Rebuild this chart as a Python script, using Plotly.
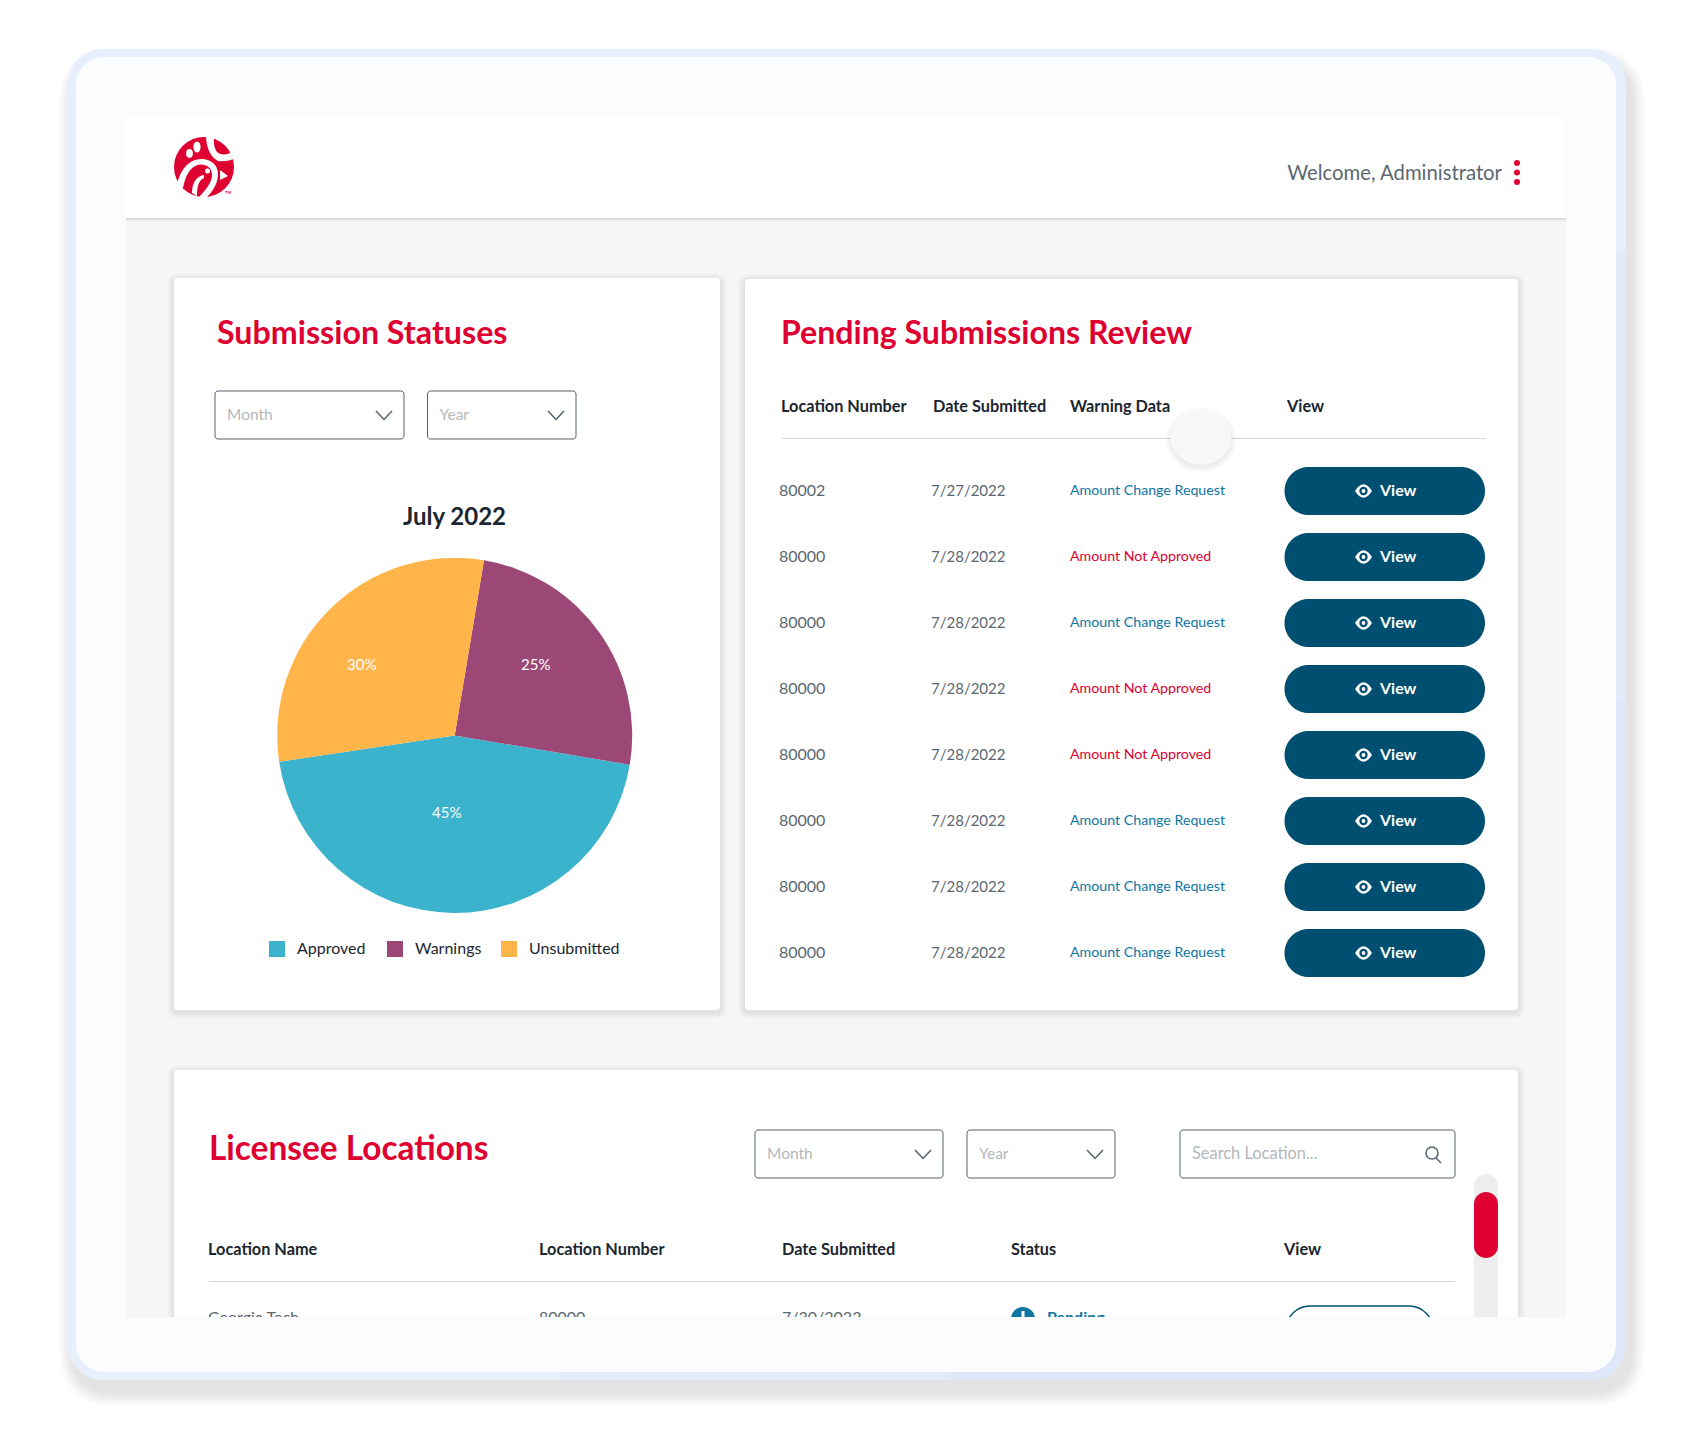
import plotly.graph_objects as go

W, H = 1692, 1430
FONT = "Lato"

# pie data
status_labels = ["Approved", "Warnings", "Unsubmitted"]
status_values = [45, 25, 30]
status_colors = ["#3cb3cd", "#9b4876", "#ffb54a"]

# pending table
pending_headers = ["Location Number", "Date Submitted", "Warning Data", "View"]
pending_numbers = ["80002", "80000", "80000", "80000", "80000", "80000", "80000", "80000"]
pending_dates = ["7/27/2022", "7/28/2022", "7/28/2022", "7/28/2022", "7/28/2022", "7/28/2022", "7/28/2022", "7/28/2022"]
pending_warnings = ["Amount Change Request", "Amount Not Approved", "Amount Change Request", "Amount Not Approved",
                    "Amount Not Approved", "Amount Change Request", "Amount Change Request", "Amount Change Request"]

# licensee table
licensee_headers = ["Location Name", "Location Number", "Date Submitted", "Status", "View"]
licensee_row = ["Georgia Tech", "80000", "7/30/2022"]

RED = "#dd0031"
NAVY = "#004f71"
TEAL = "#0e76a3"
GREY = "#5b6770"
DARK = "#1b2630"
PLACEHOLDER = "#b3b7bb"
BORDER = "#55606b"
RULE = "#cfd6de"
K = 0.552

shapes = []
annotations = []
traces = []


def rrect(x0, y0, x1, y1, r):
    c = r*(1-K)
    return (f"M {x0+r} {y0} L {x1-r} {y0} C {x1-c} {y0} {x1} {y0+c} {x1} {y0+r} "
            f"L {x1} {y1-r} C {x1} {y1-c} {x1-c} {y1} {x1-r} {y1} "
            f"L {x0+r} {y1} C {x0+c} {y1} {x0} {y1-c} {x0} {y1-r} "
            f"L {x0} {y0+r} C {x0} {y0+c} {x0+c} {y0} {x0+r} {y0} Z")


def add_path(path, fill=None, line=None, width=0, layer="below"):
    shapes.append(dict(type="path", path=path, xref="x", yref="y", layer=layer,
                       fillcolor=fill if fill else "rgba(0,0,0,0)",
                       line=dict(color=line if line else "rgba(0,0,0,0)", width=width)))


def add_rect(x0, y0, x1, y1, fill, r=0, line=None, width=0, layer="below"):
    add_path(rrect(x0, y0, x1, y1, r), fill, line, width, layer)


def add_circle(cx, cy, rx, ry=None, fill=None, line=None, width=0, layer="below"):
    ry = rx if ry is None else ry
    shapes.append(dict(type="circle", xref="x", yref="y", x0=cx-rx, x1=cx+rx, y0=cy-ry, y1=cy+ry, layer=layer,
                       fillcolor=fill if fill else "rgba(0,0,0,0)",
                       line=dict(color=line if line else "rgba(0,0,0,0)", width=width)))


def add_shadow(x0, y0, x1, y1, r, steps, alpha, dx=0, dy=0):
    for k in range(steps, 0, -1):
        add_rect(x0-k+dx, y0-k+dy, x1+k+dx, y1+k+dy, f"rgba(0,0,0,{alpha})", r+k)


def add_text(xs, ys, texts, size, color, bold=False, pos="middle right"):
    traces.append(go.Scatter(x=xs, y=ys, text=texts, mode="text", textposition=pos, hoverinfo="skip",
                             showlegend=False, cliponaxis=False,
                             textfont=dict(family=FONT, size=size, color=color,
                                           weight="bold" if bold else "normal")))


def add_dropdown(x0, y0, x1, y1, label):
    add_rect(x0, y0, x1, y1, "#ffffff", 3, BORDER, 1)
    cy = (y0+y1)/2
    add_text([x0+12], [cy+1], [label], 15.5, PLACEHOLDER)
    add_path(f"M {x1-28} {cy-4} L {x1-20} {cy+4.5} L {x1-12} {cy-4}", None, BORDER, 1.5)


# outer frame
add_shadow(68, 49, 1626, 1380, 35, 14, 0.009, 5, 12)
add_rect(68, 49, 1626, 1380, "#e7effc", 35)
add_path("M 560 1380 L 1591 1380 C 1610 1380 1626 1364 1626 1345 L 1626 250 L 1500 250 L 1500 1300 L 560 1300 Z", "#e2ebfa")
add_path("M 950 1380 L 1591 1380 C 1610 1380 1626 1364 1626 1345 L 1626 700 L 1500 700 L 1500 1300 L 950 1300 Z", "#dde7f7")
add_rect(76, 57, 1616, 1372, "#fbfcfe", 28)

# page area
add_rect(126, 218, 1566, 1330, "#f6f6f6")
add_rect(126, 117, 1566, 218, "#ffffff")
for k, a in [(1, 0.16), (2, 0.09), (3, 0.05), (4, 0.02)]:
    add_rect(126, 218+k-1, 1566, 218+k, f"rgba(40,50,70,{a})")

# logo
add_circle(204, 167, 30, fill=RED)
add_path("M 206 137 Q 207 155 218 161 Q 228 162 235 158 L 232 152 Q 223 157 217 152 Q 213 147 214 136 Z", "#ffffff")
add_circle(189.5, 153.5, 3.4, 4.4, fill="#ffffff")
add_circle(197, 147, 3.6, 5.6, fill="#ffffff")
add_path("M 220 170 L 228 176 L 220 180 Z", "#ffffff")
add_path("M 177 184 C 181 168 190 159 201 159 C 212 159 219 166 218 176 C 217 185 212 192 207 197 L 199 197 "
         "C 206 190 212 182 212 175 C 212 168 207 164.5 201 164.5 C 193 164.5 186 172 183 188 Z", "#ffffff")
add_path("M 192 193 C 192 182 197 176 204 175 L 204 178 C 199 180 197 186 197 196 Z", "#ffffff")
add_circle(207.5, 171, 2.5, fill="#ffffff")
add_text([225], [193], ["TM"], 4, RED, True)

add_text([1502], [174.5], ["Welcome, Administrator"], 20.3, GREY, pos="middle left")
for y in [163, 172.5, 182]:
    add_circle(1517, y, 3, fill=RED)

# cards
for box in [(174, 278, 720, 1010), (745, 279, 1518, 1010), (174, 1070, 1518, 1340)]:
    add_shadow(*box, 3, 7, 0.01, 0, 2)
    add_rect(*box, "#ffffff", 3)

# submission statuses card
add_text([217], [336], ["Submission Statuses"], 32.2, RED, True)
add_dropdown(215, 391, 404, 439, "Month")
add_dropdown(427.5, 391, 576, 439, "Year")
add_text([454.5], [519], ["July 2022"], 24, DARK, True, "middle center")

pie_cx, pie_cy, pie_r = 454.7, 735.4, 177.5
traces.append(go.Pie(labels=status_labels, values=status_values, sort=False, direction="counterclockwise",
                     rotation=99.5, textinfo="none", hoverinfo="skip", showlegend=False,
                     marker=dict(colors=status_colors, line=dict(width=0)),
                     domain=dict(x=[(pie_cx-pie_r)/W, (pie_cx+pie_r)/W],
                                 y=[1-(pie_cy+pie_r)/H, 1-(pie_cy-pie_r)/H])))

# percent labels sit on top of the pie
for v, px, py in zip(status_values, [446, 535, 361], [812, 664, 664]):
    annotations.append(dict(x=px, y=py, xref="x", yref="y", text=f"{v}%", showarrow=False,
                            font=dict(family=FONT, size=15, color="#ffffff")))

for name, color, sx, tx in zip(status_labels, status_colors, [269, 387, 501], [297, 415, 529]):
    add_rect(sx, 941, sx+16, 957, color)
    add_text([tx], [949.5], [name], 16, DARK)

# pending card
add_text([781], [336], ["Pending Submissions Review"], 32.1, RED, True)
for name, x in zip(pending_headers, [781, 933, 1070, 1287]):
    add_text([x], [408], [name], 16.3, DARK, True)
add_rect(782, 438, 1486, 439, RULE)
for k in range(6, 0, -1):
    add_circle(1201, 440, 30+k, 27+k, fill="rgba(0,0,0,0.012)")
add_circle(1201, 437, 30, 27, fill="#f7f7f7", line="#fbfbfb", width=1)

row_y = [490 + 66*i for i in range(len(pending_numbers))]
add_text([779]*8, [y+2 for y in row_y], pending_numbers, 16, GREY)
add_text([931]*8, [y+2 for y in row_y], pending_dates, 15, GREY)
for y, w in zip(row_y, pending_warnings):
    add_text([1070], [y+1], [w], 14.2, RED if "Not" in w else TEAL)
    add_rect(1284.5, y-23, 1485, y+25, NAVY, 24)
    add_path(f"M 1355 {y+1} Q 1363.5 {y-12.5} 1372 {y+1} Q 1363.5 {y+14.5} 1355 {y+1} Z", "#ffffff")
    add_circle(1363.5, y+1, 4.2, fill=NAVY)
    add_circle(1363.5, y+1, 1.9, fill="#ffffff")
    add_text([1380], [y+2], ["View"], 16, "#ffffff", True)

# licensee card
add_text([209], [1152], ["Licensee Locations"], 33.4, RED, True)
add_dropdown(755, 1130, 943, 1178, "Month")
add_dropdown(967, 1130, 1115, 1178, "Year")
add_rect(1180, 1130, 1455, 1178, "#ffffff", 3, BORDER, 1)
add_text([1192], [1155], ["Search Location..."], 16.4, PLACEHOLDER)
add_circle(1432, 1153, 6, line=BORDER, width=1.5)
add_path("M 1436 1158 L 1441 1163", None, BORDER, 1.5)

add_rect(1474, 1174, 1498, 1340, "#eeeeee", 12)
add_rect(1474, 1192, 1498, 1258, RED, 12)

for name, x in zip(licensee_headers, [208, 539, 782, 1011, 1284]):
    add_text([x], [1251], [name], 16.3, DARK, True)
add_rect(209, 1281, 1455, 1282, RULE)

for name, x in zip(licensee_row, [208, 539, 782]):
    add_text([x], [1319], [name], 16, GREY)
add_circle(1023, 1319, 12, fill=TEAL)
add_rect(1021.5, 1311, 1024.5, 1320, "#ffffff")
add_text([1047], [1319], ["Pending"], 16, TEAL, True)
add_rect(1286, 1306, 1433, 1354, "#ffffff", 24, NAVY, 1.5)

# bottom of the frame covers the scrolled content
add_rect(120, 1317, 1572, 1372, "#fbfcfe", 0, layer="above")

fig = go.Figure(traces)
fig.update_layout(width=W, height=H, autosize=False, margin=dict(l=0, r=0, t=0, b=0),
                  paper_bgcolor="#ffffff", plot_bgcolor="rgba(0,0,0,0)", showlegend=False,
                  xaxis=dict(range=[0, W], visible=False, fixedrange=True),
                  yaxis=dict(range=[H, 0], visible=False, fixedrange=True),
                  shapes=shapes, annotations=annotations)

fig.write_html("out.html", config=dict(displayModeBar=False),
               post_script="document.body.style.margin='0';")
